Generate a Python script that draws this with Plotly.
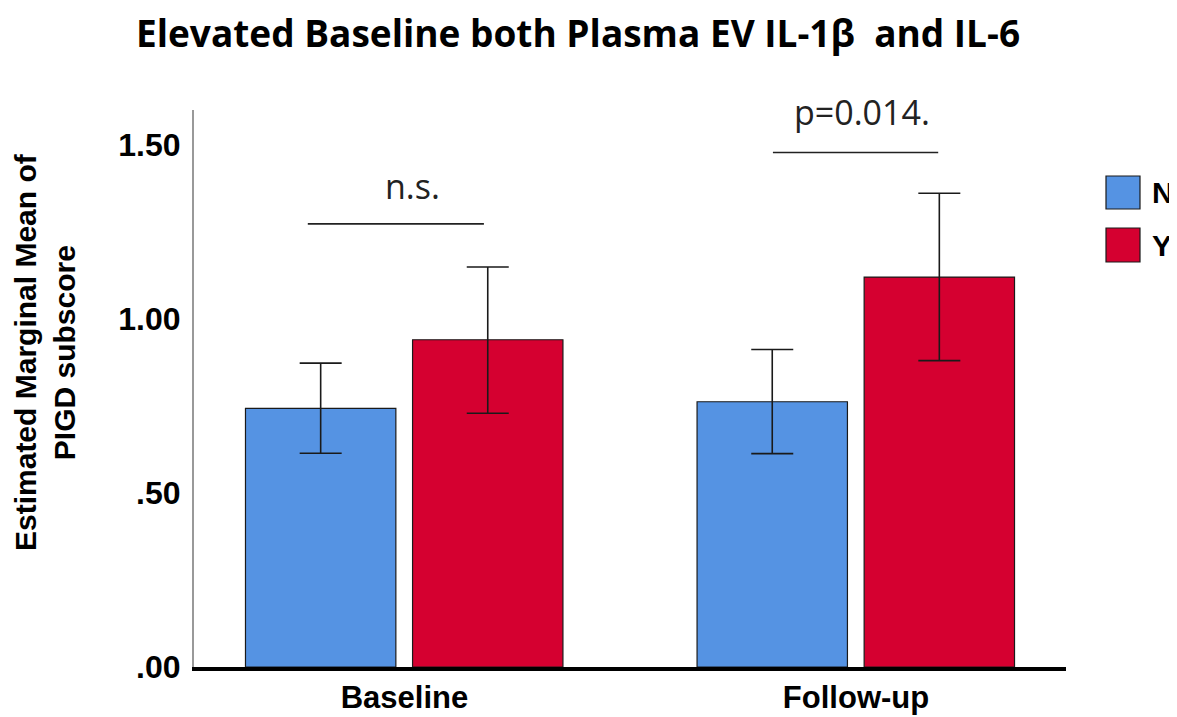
import plotly.graph_objects as go

# ---- data ----
categories = ["Baseline", "Follow-up"]
series_names = ["N", "Y"]
means_N = [0.743, 0.762]
err_hi_N = [0.873, 0.912]
err_lo_N = [0.614, 0.613]
means_Y = [0.940, 1.120]
err_hi_Y = [1.149, 1.361]
err_lo_Y = [0.729, 0.880]
sig_labels = ["n.s.", "p=0.014."]
sig_levels = [1.273, 1.478]
y_tick_vals = [0.0, 0.5, 1.0, 1.5]
y_tick_text = [".00", ".50", "1.00", "1.50"]
chart_title = "Elevated Baseline both Plasma EV IL-1β  and IL-6"

colors = ["#5593E3", "#D50030"]
xpos = list(range(len(categories)))

# page offset (body margin) and plot-area geometry in page pixels
OFF = 8
W, H = 1177 - OFF, 717 - OFF
PX0, PX1, PY0, PY1 = 194, 1066, 110, 667  # plot area left/right/top/bottom (page px)


def px(xp):
    return (xp - PX0) / (PX1 - PX0)


def py(yp):
    return (PY1 - yp) / (PY1 - PY0)


fig = go.Figure()

series = [
    (series_names[0], means_N, err_hi_N, err_lo_N, -0.352),
    (series_names[1], means_Y, err_hi_Y, err_lo_Y, 0.018),
]
for (name, m, hi, lo, off), col in zip(series, colors):
    fig.add_trace(go.Bar(
        x=xpos, y=m, name=name, width=0.333, offset=off,
        marker=dict(color=col, line=dict(color="#1a1a1a", width=1.2)),
        error_y=dict(type="data", symmetric=False,
                     array=[h - v for h, v in zip(hi, m)],
                     arrayminus=[v - l for l, v in zip(lo, m)],
                     color="#1a1a1a", thickness=1.6, width=21),
        showlegend=False,
    ))

# significance lines & labels
sig_x = [(-0.214, 0.176), (0.816, 1.182)]
lab_pos = [(0.018, 1.382), (1.013, 1.595)]
for (x0, x1), lvl, lab, (lx, ly) in zip(sig_x, sig_levels, sig_labels, lab_pos):
    fig.add_shape(type="line", xref="x", yref="y", x0=x0, x1=x1, y0=lvl, y1=lvl,
                  line=dict(color="#222", width=1.6))
    fig.add_annotation(x=lx, y=ly, xref="x", yref="y", text=lab, showarrow=False,
                       font=dict(family="Open Sans", size=34, color="#222"),
                       xanchor="center", yanchor="middle")

# manual legend
leg_y = [(176, 209), (228, 262)]
for (y0, y1), col, name in zip(leg_y, colors, series_names):
    fig.add_shape(type="rect", xref="paper", yref="paper",
                  x0=px(1106), x1=px(1140), y0=py(y1), y1=py(y0),
                  fillcolor=col, line=dict(color="#1a1a1a", width=1.2))
    fig.add_annotation(xref="paper", yref="paper", x=px(1150),
                       y=py((y0 + y1) / 2), text="<b>%s</b>" % name,
                       showarrow=False, xanchor="left", yanchor="middle",
                       font=dict(family="Liberation Sans", size=30, color="#000"))

# y axis title as annotation
fig.add_annotation(xref="paper", yref="paper", x=px(45), y=py(352),
                   text="<b>Estimated Marginal Mean of<br>PIGD subscore</b>",
                   textangle=-90, showarrow=False, xanchor="center", yanchor="middle",
                   font=dict(family="Liberation Sans", size=30, color="#000"))

# chart title as annotation
fig.add_annotation(xref="paper", yref="paper", x=px(578), y=py(32),
                   text="<b>%s</b>" % chart_title, showarrow=False,
                   xanchor="center", yanchor="middle",
                   font=dict(family="Open Sans", size=37, color="#000"))

fig.update_layout(
    width=W, height=H,
    margin=dict(l=PX0 - OFF, r=W - (PX1 - OFF), t=PY0 - OFF, b=H - (PY1 - OFF)),
    paper_bgcolor="white", plot_bgcolor="white",
    xaxis=dict(range=[-0.466, 1.465], tickvals=xpos, ticktext=["<b>%s</b>" % c for c in categories],
               showgrid=False, zeroline=False, showline=True, linecolor="#000", linewidth=4,
               ticks="", automargin=False,
               tickfont=dict(family="Liberation Sans", size=31, color="#000")),
    yaxis=dict(range=[0, 1.6], tickvals=y_tick_vals, ticktext=["<b>%s</b>" % t for t in y_tick_text],
               showgrid=False, zeroline=False, showline=True, linecolor="#999", linewidth=2,
               ticks="", ticklabelstandoff=5, automargin=False,
               tickfont=dict(family="Liberation Sans", size=32, color="#000")),
)

fig.write_html("out.html")
